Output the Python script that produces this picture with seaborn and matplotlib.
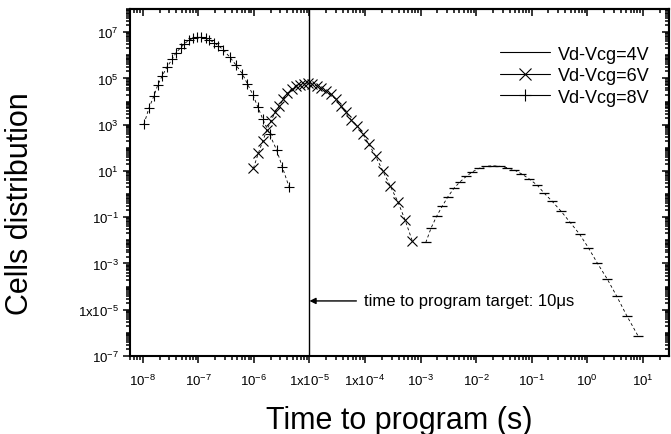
import matplotlib
matplotlib.use('Agg')
import matplotlib.pyplot as plt
import matplotlib.ticker as mticker
from matplotlib.lines import Line2D
import seaborn as sns

sns.set_style('ticks')
plt.rcParams['font.family'] = ['Liberation Sans', 'DejaVu Sans']
plt.rcParams['mathtext.fontset'] = 'custom'
plt.rcParams['mathtext.rm'] = 'Liberation Sans'
plt.rcParams['mathtext.it'] = 'Liberation Sans:italic'
plt.rcParams['mathtext.bf'] = 'Liberation Sans:bold'
for k in ['text.color', 'axes.labelcolor', 'xtick.color', 'ytick.color', 'axes.edgecolor']:
    plt.rcParams[k] = 'black'

# Vd-Vcg=4V
t_4v = [1.24e-3, 1.55e-3, 1.95e-3, 2.45e-3, 3.09e-3, 3.98e-3, 5.13e-3, 6.61e-3, 8.51e-3,
        1.12e-2, 1.48e-2, 2.04e-2, 2.69e-2, 3.63e-2, 4.79e-2, 6.46e-2, 8.91e-2, 0.126,
        0.166, 0.234, 0.339, 0.49, 0.724, 1.05, 1.51, 2.29, 3.39, 5.13, 8.13]
n_4v = [8.1e-3, 3.5e-2, 0.112, 0.30, 0.76, 1.78, 3.4, 5.75, 9.1,
        12.9, 15.8, 16.6, 15.8, 13.8, 11.2, 7.6, 4.6, 2.4,
        1.12, 0.48, 0.178, 0.060, 0.0186, 4.7e-3, 1.05e-3, 2.1e-4, 3.8e-5, 5.5e-6, 7.6e-7]

# Vd-Vcg=6V
t_6v = [9.8e-7, 1.2e-6, 1.45e-6, 1.7e-6, 2.04e-6, 2.4e-6, 2.88e-6, 3.39e-6, 3.98e-6,
        4.79e-6, 5.62e-6, 6.76e-6, 7.94e-6, 9.55e-6, 1.12e-5, 1.35e-5, 1.58e-5, 1.95e-5,
        2.4e-5, 2.95e-5, 3.63e-5, 4.47e-5, 5.62e-5, 7.24e-5, 9.12e-5, 1.17e-4, 1.55e-4,
        2.09e-4, 2.82e-4, 3.89e-4, 5.25e-4, 7.08e-4]
n_6v = [13, 58, 200, 575, 1.5e3, 3.4e3, 6.6e3, 1.26e4, 2.24e4,
        3.5e4, 4.5e4, 5.2e4, 6.0e4, 6.3e4, 5.6e4, 4.8e4, 3.8e4, 2.9e4,
        2.1e4, 1.26e4, 6.6e3, 3.4e3, 1.6e3, 890, 390, 145, 43,
        10, 2.3, 0.47, 0.076, 0.0095]

# Vd-Vcg=8V
t_8v = [1.05e-8, 1.29e-8, 1.58e-8, 1.86e-8, 2.24e-8, 2.75e-8, 3.39e-8, 3.98e-8, 4.79e-8,
        5.62e-8, 6.76e-8, 7.94e-8, 9.55e-8, 1.12e-7, 1.35e-7, 1.58e-7, 1.91e-7, 2.29e-7,
        2.82e-7, 3.72e-7, 4.79e-7, 6.17e-7, 7.59e-7, 9.55e-7, 1.17e-6, 1.45e-6, 1.91e-6,
        2.57e-6, 3.24e-6, 4.27e-6]
n_8v = [1.05e3, 5.2e3, 1.7e4, 5.2e4, 1.3e5, 3.2e5, 6.8e5, 1.3e6, 2.1e6,
        3.2e6, 4.4e6, 5.4e6, 5.9e6, 5.9e6, 5.5e6, 4.7e6, 3.5e6, 2.6e6,
        1.7e6, 8.1e5, 3.7e5, 1.6e5, 6.0e4, 2.0e4, 6.0e3, 1.7e3, 390,
        79, 15, 2.1]

series_labels = ['Vd-Vcg=4V', 'Vd-Vcg=6V', 'Vd-Vcg=8V']
target_time = 1e-5
arrow_y = 2.4e-5
note_x = 9.5e-5
note_text = 'time to program target: 10\u03bcs'

x_ticks = [1e-8, 1e-7, 1e-6, 1e-5, 1e-4, 1e-3, 1e-2, 1e-1, 1e0, 1e1]
x_tick_labels = [r'$\mathregular{10^{-8}}$', r'$\mathregular{10^{-7}}$', r'$\mathregular{10^{-6}}$',
                 r'$\mathregular{1x10^{-5}}$', r'$\mathregular{1x10^{-4}}$', r'$\mathregular{10^{-3}}$',
                 r'$\mathregular{10^{-2}}$', r'$\mathregular{10^{-1}}$', r'$\mathregular{10^{0}}$',
                 r'$\mathregular{10^{1}}$']
y_ticks = [1e-7, 1e-5, 1e-3, 1e-1, 1e1, 1e3, 1e5, 1e7]
y_tick_labels = [r'$\mathregular{10^{-7}}$', r'$\mathregular{1x10^{-5}}$', r'$\mathregular{10^{-3}}$',
                 r'$\mathregular{10^{-1}}$', r'$\mathregular{10^{1}}$', r'$\mathregular{10^{3}}$',
                 r'$\mathregular{10^{5}}$', r'$\mathregular{10^{7}}$']


def ident(v):
    return v


fig = plt.figure(figsize=(6.71, 4.35), dpi=100)
ax = fig.add_axes([130 / 671, 1 - 357 / 435, 539 / 671, 347 / 435])
ax.set(xscale='log', yscale='log')

line_kw = dict(color='black', linestyle=(0, (3.5, 3)), linewidth=0.6,
               markeredgecolor='black', errorbar=None, ax=ax)
sns.lineplot(x=t_4v, y=n_4v, marker='_', markersize=7, markeredgewidth=0.9, **line_kw)
sns.lineplot(x=t_6v, y=n_6v, marker='x', markersize=7, markeredgewidth=0.8, **line_kw)
sns.lineplot(x=t_8v, y=n_8v, marker='+', markersize=7.5, markeredgewidth=0.8, **line_kw)

ax.axvline(target_time, color='black', lw=1)
ax.annotate(note_text, xy=(target_time, arrow_y), xytext=(note_x, arrow_y),
            va='center', ha='left', fontsize=12,
            arrowprops=dict(arrowstyle='-|>', color='black', lw=1, shrinkA=3, shrinkB=0,
                            mutation_scale=9))

ax.set_xlim(10 ** -8.23, 10 ** 1.47)
ax.set_ylim(1e-7, 1e8)

ax.xaxis.set_major_locator(mticker.FixedLocator(x_ticks))
ax.xaxis.set_major_formatter(mticker.FixedFormatter(x_tick_labels))
ax.xaxis.set_minor_locator(mticker.LogLocator(base=10, subs=range(2, 10), numticks=100))
ax.xaxis.set_minor_formatter(mticker.NullFormatter())
ax.yaxis.set_major_locator(mticker.FixedLocator(y_ticks))
ax.yaxis.set_major_formatter(mticker.FixedFormatter(y_tick_labels))
ax.yaxis.set_minor_locator(mticker.LogLocator(base=10, subs=range(1, 10), numticks=100))
ax.yaxis.set_minor_formatter(mticker.NullFormatter())
ax.tick_params(which='both', direction='out', width=1.1, labelsize=9.5)
ax.tick_params(axis='x', pad=7)
ax.tick_params(axis='y', pad=3)
ax.tick_params(which='major', length=5)
ax.tick_params(which='minor', length=3)

# top and right axes with inward ticks, no labels
top = ax.secondary_xaxis('top', functions=(ident, ident))
top.xaxis.set_major_locator(mticker.FixedLocator(x_ticks))
top.xaxis.set_minor_locator(mticker.LogLocator(base=10, subs=range(2, 10), numticks=100))
top.xaxis.set_major_formatter(mticker.NullFormatter())
top.xaxis.set_minor_formatter(mticker.NullFormatter())
right = ax.secondary_yaxis('right', functions=(ident, ident))
right.yaxis.set_major_locator(mticker.FixedLocator(y_ticks))
right.yaxis.set_minor_locator(mticker.LogLocator(base=10, subs=range(1, 10), numticks=100))
right.yaxis.set_major_formatter(mticker.NullFormatter())
right.yaxis.set_minor_formatter(mticker.NullFormatter())
for sec in (top, right):
    sec.tick_params(which='both', direction='in', width=1.1)
    sec.tick_params(which='major', length=5)
    sec.tick_params(which='minor', length=3)
    for sp in sec.spines.values():
        sp.set_linewidth(1.5)
for sp in ax.spines.values():
    sp.set_linewidth(1.5)

ax.set_xlabel('Time to program (s)', fontsize=22)
ax.xaxis.set_label_coords(0.5, -0.14)
ax.set_ylabel('Cells distribution', fontsize=22)
ax.yaxis.set_label_coords(-0.205, 0.441)
ax.yaxis.label.set_va('center')

handles = [Line2D([], [], color='black', lw=0.8),
           Line2D([], [], color='black', lw=0.8, marker='x', markersize=9, mew=0.8),
           Line2D([], [], color='black', lw=0.8, marker='+', markersize=9, mew=0.8)]
ax.legend(handles, series_labels, loc='center left', bbox_to_anchor=(0.686, 0.808),
          frameon=False, fontsize=13, handlelength=2.8, handletextpad=0.4,
          labelspacing=0.25, borderpad=0, borderaxespad=0)

fig.savefig('out.png', dpi=100)
